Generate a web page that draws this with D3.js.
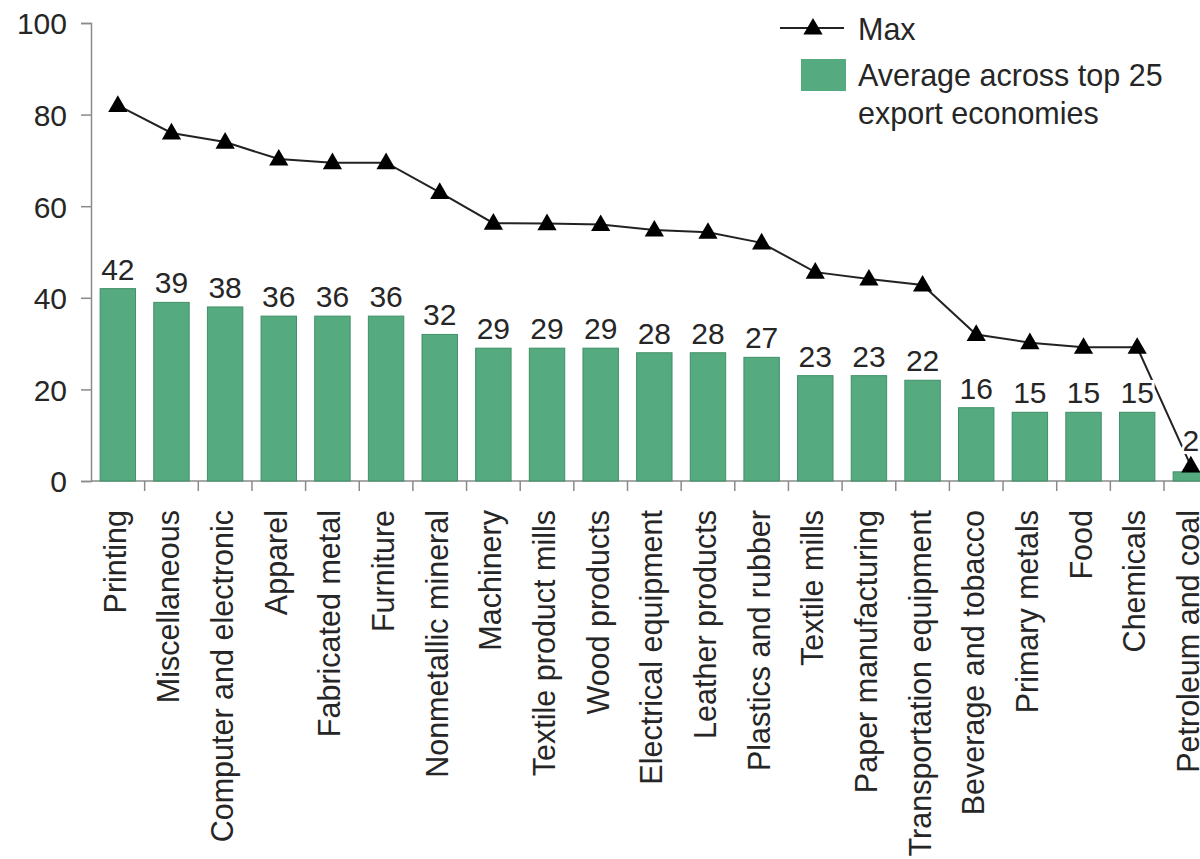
<!DOCTYPE html>
<html>
<head>
<meta charset="utf-8">
<script src="https://cdn.jsdelivr.net/npm/d3@7/dist/d3.min.js"></script>
<style>
  html, body { margin: 0; padding: 0; background: #fff; overflow: hidden; }
  svg { display: block; font-family: "Liberation Sans", Arial, Helvetica, sans-serif; }
</style>
</head>
<body>
<svg id="chart" width="1200" height="859"></svg>
<script>
// Industries, ordered by average score
const categories = [
  "Printing", "Miscellaneous", "Computer and electronic", "Apparel",
  "Fabricated metal", "Furniture", "Nonmetallic mineral", "Machinery",
  "Textile product mills", "Wood products", "Electrical equipment",
  "Leather products", "Plastics and rubber", "Textile mills",
  "Paper manufacturing", "Transportation equipment", "Beverage and tobacco",
  "Primary metals", "Food", "Chemicals", "Petroleum and coal"
];

// Average across top 25 export economies
const averageValues = [42, 39, 38, 36, 36, 36, 32, 29, 29, 29, 28, 28, 27, 23, 23, 22, 16, 15, 15, 15, 2];

// Maximum across economies
const maxValues = [82, 76, 74, 70.3, 69.5, 69.5, 63, 56.3, 56.2, 56, 54.8, 54.3, 52, 45.6, 44.1, 42.8, 32, 30.2, 29.2, 29.2, 3.3];

const yTicks = [0, 20, 40, 60, 80, 100];

const seriesNames = ["Max", "Average across top 25", "export economies"];

const svg = d3.select("#chart");
const textColor = "#262626";
const axisColor = "#8a8a8a";
const barColor = "#55ab7f";
const barEdge = "#3f8f66";

const x0 = 91, step = 53.65;
const x = d3.scaleBand()
  .domain(categories)
  .range([x0, x0 + step * categories.length])
  .paddingInner(0.34)
  .paddingOuter(0.17);

const y = d3.scaleLinear().domain([0, 100]).range([481, 23]);

// Y axis
const yAxis = svg.append("g").attr("transform", `translate(${x0},0)`)
  .call(d3.axisLeft(y).tickValues(yTicks).tickSize(10).tickPadding(14));
yAxis.select(".domain").attr("stroke", axisColor).attr("stroke-width", 1.5);
yAxis.selectAll(".tick line").attr("stroke", axisColor).attr("stroke-width", 1.5);
yAxis.selectAll(".tick text")
  .attr("fill", textColor).style("font-size", "30px").attr("dy", "0.36em");

// X axis: ticks at category boundaries
const xAxisG = svg.append("g").attr("transform", `translate(0,${y(0)})`);
xAxisG.append("line")
  .attr("x1", x0).attr("x2", 1200)
  .attr("stroke", axisColor).attr("stroke-width", 1.5);
xAxisG.selectAll("line.tick")
  .data(categories)
  .join("line")
  .attr("class", "tick")
  .attr("x1", (d) => x(d) + x.bandwidth() + x.step() * x.paddingInner() / 2)
  .attr("x2", (d) => x(d) + x.bandwidth() + x.step() * x.paddingInner() / 2)
  .attr("y1", 0).attr("y2", 10)
  .attr("stroke", axisColor).attr("stroke-width", 1.5);

xAxisG.selectAll("text.cat")
  .data(categories)
  .join("text")
  .attr("class", "cat")
  .attr("transform", (d) => `translate(${x(d) + x.bandwidth() / 2 - 3},29) rotate(-90)`)
  .attr("text-anchor", "end")
  .attr("dy", "0.36em")
  .attr("fill", textColor)
  .style("font-size", "30.5px")
  .text((d) => d);

// Bars
svg.append("g").selectAll("rect")
  .data(categories)
  .join("rect")
  .attr("x", (d) => x(d))
  .attr("width", x.bandwidth())
  .attr("y", (d, i) => y(averageValues[i]))
  .attr("height", (d, i) => y(0) - y(averageValues[i]))
  .attr("fill", barColor)
  .attr("stroke", barEdge)
  .attr("stroke-width", 1);

// Max line with triangle markers
const line = d3.line()
  .x((d, i) => x(categories[i]) + x.bandwidth() / 2)
  .y((d) => y(d));
svg.append("path")
  .datum(maxValues)
  .attr("d", line)
  .attr("fill", "none")
  .attr("stroke", "#222")
  .attr("stroke-width", 2);

const tri = d3.symbol().type(d3.symbolTriangle).size(160);
svg.append("g").selectAll("path")
  .data(maxValues)
  .join("path")
  .attr("transform", (d, i) => `translate(${x(categories[i]) + x.bandwidth() / 2},${y(d) + 1})`)
  .attr("d", tri)
  .attr("fill", "#000");

// Value labels above bars; a label is lifted above the marker only when the
// marker would otherwise sit on it (white halo breaks the line behind them)
function labelY(d, i) {
  const base = y(d) - 9;
  const marker = y(maxValues[i]);
  return marker > base - 30 ? marker - 15 : base;
}
svg.append("g").selectAll("text")
  .data(averageValues)
  .join("text")
  .attr("x", (d, i) => x(categories[i]) + x.bandwidth() / 2)
  .attr("y", labelY)
  .attr("text-anchor", "middle")
  .attr("fill", textColor)
  .attr("stroke", "#fff")
  .attr("stroke-width", 6)
  .attr("paint-order", "stroke")
  .style("font-size", "30px")
  .text((d) => d);

// Legend
const legend = svg.append("g");
legend.append("line")
  .attr("x1", 780).attr("x2", 844).attr("y1", 28).attr("y2", 28)
  .attr("stroke", "#222").attr("stroke-width", 2);
legend.append("path")
  .attr("transform", "translate(813,29)")
  .attr("d", tri)
  .attr("fill", "#000");
legend.append("text")
  .attr("x", 858).attr("y", 40)
  .attr("fill", textColor).style("font-size", "30.5px")
  .text(seriesNames[0]);
legend.append("rect")
  .attr("x", 801).attr("y", 59).attr("width", 45).attr("height", 32)
  .attr("fill", barColor);
legend.append("text")
  .attr("x", 858).attr("y", 86)
  .attr("fill", textColor).style("font-size", "30.5px")
  .text(seriesNames[1]);
legend.append("text")
  .attr("x", 858).attr("y", 124)
  .attr("fill", textColor).style("font-size", "30.5px")
  .text(seriesNames[2]);
</script>
</body>
</html>
